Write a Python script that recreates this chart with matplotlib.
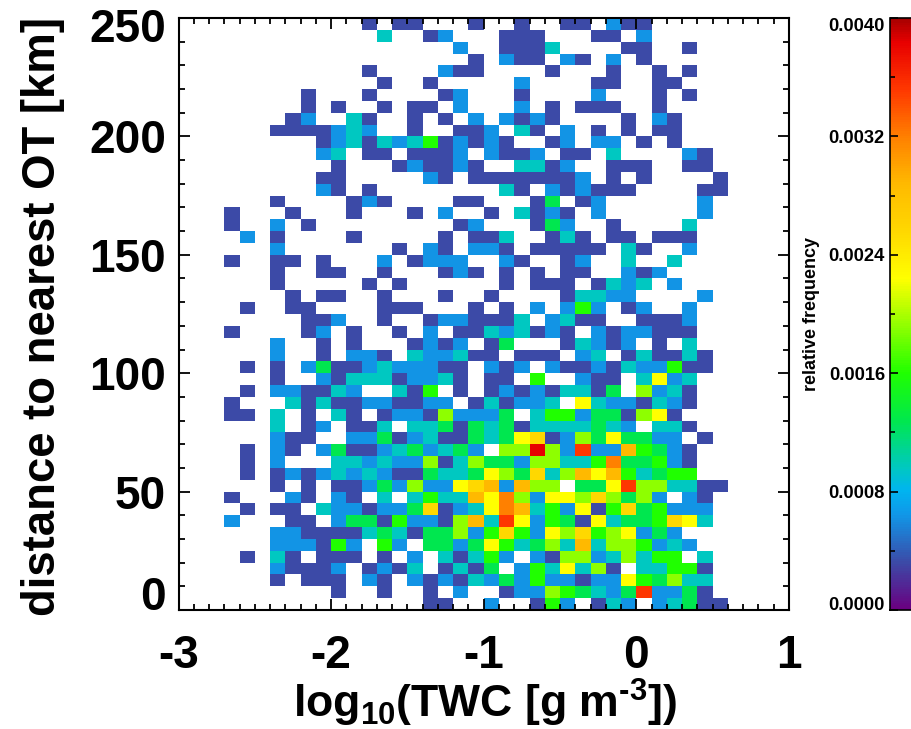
import matplotlib
matplotlib.use("Agg")
import matplotlib.pyplot as plt
import numpy as np
from matplotlib.colors import LinearSegmentedColormap
from matplotlib.ticker import MultipleLocator

plt.rcParams['font.family'] = ['Liberation Sans', 'DejaVu Sans']
plt.rcParams['font.weight'] = 'bold'
plt.rcParams['axes.unicode_minus'] = False
plt.rcParams['mathtext.fontset'] = 'custom'
plt.rcParams['mathtext.rm'] = 'Liberation Sans:bold'
plt.rcParams['mathtext.default'] = 'rm'

# counts per bin, top row (245-250 km) first, '.' = empty, a/b/c = 10/11/12
# columns run from log10(TWC) = -3 to 1 in steps of 0.1, grouped by five
count_rows = [
    "..... ..... ..1.1 1...1 ..1.. 11.21 1.... .....",
    "..... ..... ...3. .12.. .111. ..11. 2.... .....",
    "..... ..... ..... ...2. .1113 ....1 1..1. .....",
    "..... ..... ..... ....1 .211. 21.2. 1.... .....",
    "..... ..... ..1.. ..211 ....1 ...1. .1.1. .....",
    "..... ..... ...1. .1... ..2.. ..11. .11.. .....",
    "..... ...1. ..1.. ..12. ..1.. ..2.. .1.1. .....",
    "..... ...1. 1..1. 11.2. ..2.1 .111. .1... .....",
    "..... ..12. .31.. 1.1.2 .2121 ....1 .21.. .....",
    "..... .1111 232.. 1..11 2.31. 2.1.1 .11.. .....",
    "..... ....1 23132 35121 21..1 2.22. 1.1.. .....",
    "..... ....2 3.11. 1112. 2112. 11.3. ...21 .....",
    "..... ..... 1...1 21121 ..331 2..11 1..11 .....",
    "..... ....1 1.... .21.1 11111 12.1. 1.... 1....",
    "..... ....2 1.1.. ..... .31.2 12111 ....1 1....",
    "..... .1... .121. ...11 ...14 .12.. ....2 .....",
    "...1. ..1.. .1... 1.2.. 1.312 1.2.. ....2 .....",
    "...1. .2.1. ..... ...12 ...14 2..1. ...3. .....",
    "....2 .1... .1... ..1.1 13..1 31.11 .111. .....",
    "..... .2... ....1 .21.2 21.11 111.3 1..2. .....",
    "...1. .11.1 ...2. 1222. .21.. 12..3 ..3.. .....",
    "..... .1..1 1..1. ..121 .1.1. 11..2 12... .....",
    "..... .1... ..1.1 ..... .1.11 1.132 3.2.. .....",
    "..... ..1.1 1..1. ..1.. 1.... 13322 ....2 .....",
    "....1 ..11. ...11 1...1 .1.2. 252.1 2..2. .....",
    "..... ...11 2..1. .1221 113.2 311.. 1112. .....",
    "...1. ...12 .1..1 .2.11 32312 1.212 2111. .....",
    "..... .2..1 .1... 1212. 14... 13212 .1.3. .....",
    "..... .2..1 .221. 32231 1.111 .23.1 31131 .....",
    "....1 .1.24 11232 2211. 212.2 11213 22511 .....",
    "..... .1..2 13331 2231. 11.5. .211. 3723. .....",
    "....1 .2211 32..3 15.1. 12121 3314. 6231. .....",
    "...1. ..313 11221 122.1 31223 .7322 1321. .....",
    "...11 .3.1. 31.12 21622 24.35 52441 671.. .....",
    "..... .3.12 .113. 33414 34133 33432 .331. .....",
    "..... .211. .2241 23114 34781 26474 422.1 .....",
    "....1 .21.2 41123 42342 .66c6 2b229 5421. .....",
    "....1 .2... 33232 26136 44266 335a4 4521. .....",
    "....1 .1212 32321 14334 76483 69795 3455. .....",
    "..... .1.1. 11242 62278 92966 .447b 66331 1....",
    "...1. ..21. 21.3. 35339 7a627 76864 62.21 .....",
    "....1 .11.3 22122 48123 7a935 27158 45222 .....",
    "...2. ..11. 24415 22169 3b725 41734 45873 .....",
    "..... .2211 11343 14462 58527 68567 242.. .....",
    "..... .2221 52.52 .4424 75346 39366 5232. .....",
    "....1 .31.1 11.1. 2.313 52.21 66236 355.3 .....",
    "..... .2111 2.121 3.131 4.253 7361. 33551 .....",
    "..... .1.11 1.21. 21213 24252 21227 54633 .....",
    "..... ..... 1..1. .1.2. .1226 54324 b2241 .....",
    "..... ..... ..... .11.. 2..15 2.132 .2341 1....",
]
freq_per_count = 0.00032

x_edges = np.linspace(-3, 1, 41)
y_edges = np.linspace(0, 250, 51)
x_ticks = [-3, -2, -1, 0, 1]
x_labels = ['-3', '-2', '-1', '0', '1']
y_ticks = [0, 50, 100, 150, 200, 250]
y_labels = ['0', '50', '100', '150', '200', '']
top_y_label = '250'
cbar_ticks = [0.0, 0.0008, 0.0016, 0.0024, 0.0032, 0.0040]
cbar_labels = ['0.0000', '0.0008', '0.0016', '0.0024', '0.0032', '0.0040']

cmap_values = [0, 0.00032, 0.00064, 0.0008, 0.00096, 0.00128, 0.0016, 0.00192,
               0.00224, 0.00256, 0.00288, 0.0032, 0.00352, 0.00384, 0.004]
cmap_colors = ['#6a0080', '#3b4ba8', '#1097e8', '#00b4f0', '#00c8c0', '#00e84c',
               '#20ff00', '#90ff00', '#ffff00', '#ffd800', '#ffba00', '#ff8000',
               '#ff3800', '#e80000', '#a80000']
cmap = LinearSegmentedColormap.from_list(
    'idl_rainbow', [(v / 0.004, c) for v, c in zip(cmap_values, cmap_colors)], N=256)

counts = np.array([[int(ch, 16) if ch != '.' else 0 for ch in row.replace(' ', '')]
                   for row in count_rows])[::-1]
freq = np.ma.masked_equal(counts, 0) * freq_per_count

W, H = 912, 729
fig = plt.figure(figsize=(W / 100, H / 100), dpi=100, facecolor='white')
ax = fig.add_axes([178.5 / W, 1 - 610 / H, (789 - 178.5) / W, (610 - 18) / H])
mesh = ax.pcolormesh(x_edges, y_edges, freq, cmap=cmap, vmin=0, vmax=0.004)
ax.set_xlim(-3, 1)
ax.set_ylim(0, 250)
ax.set_xticks(x_ticks)
ax.set_xticklabels(x_labels)
ax.set_yticks(y_ticks)
ax.set_yticklabels(y_labels)
ax.xaxis.set_minor_locator(MultipleLocator(0.1))
ax.yaxis.set_minor_locator(MultipleLocator(10))
ax.tick_params(which='major', direction='in', top=True, right=True, length=8, width=1.3)
ax.tick_params(which='minor', direction='in', top=True, right=True, length=4, width=1.3)
ax.tick_params(axis='x', which='major', labelsize=33, pad=17)
ax.tick_params(axis='y', which='major', labelsize=33, pad=9)
for s in ax.spines.values():
    s.set_linewidth(1.5)
ax.get_yticklabels()[0].set_verticalalignment('baseline')
# the top label sits below its tick, as the first and last labels do in the original
ax.annotate(top_y_label, xy=(0, 1), xycoords='axes fraction', xytext=(-9, -8.5),
            textcoords='offset points', ha='right', va='center', fontsize=33, fontweight='bold')

fig.text(43 / W, 1 - 316 / H, 'distance to nearest OT [km]', rotation=90,
         ha='center', va='center', fontsize=32.8, fontweight='bold')
fig.text(485 / W, 1 - 703 / H, r'log$_{10}$(TWC [g m$^{\text{-3}}$])',
         ha='center', va='center', fontsize=32, fontweight='bold')

# the colour bar runs off the right edge of the picture
cax = fig.add_axes([890.5 / W, 1 - 610 / H, (930 - 890.5) / W, (610 - 18) / H])
cbar = fig.colorbar(mesh, cax=cax)
cax.yaxis.set_ticks_position('left')
cax.yaxis.set_label_position('left')
cbar.set_ticks(cbar_ticks)
cbar.set_ticklabels(cbar_labels)
cax.yaxis.set_minor_locator(MultipleLocator(0.0004))
cax.tick_params(which='major', direction='in', length=6, width=1.2, labelsize=13.2, pad=4)
cax.tick_params(which='minor', direction='in', length=3.5, width=1.2, left=True)
cbar.outline.set_linewidth(1.2)
tick_text = cax.get_yticklabels()
tick_text[0].set_verticalalignment('baseline')
tick_text[-1].set_verticalalignment('top')
fig.text(812 / W, 1 - 314 / H, 'relative frequency', rotation=90,
         ha='center', va='center', fontsize=13, fontweight='bold')

fig.savefig('out.png', dpi=100, facecolor='white')
